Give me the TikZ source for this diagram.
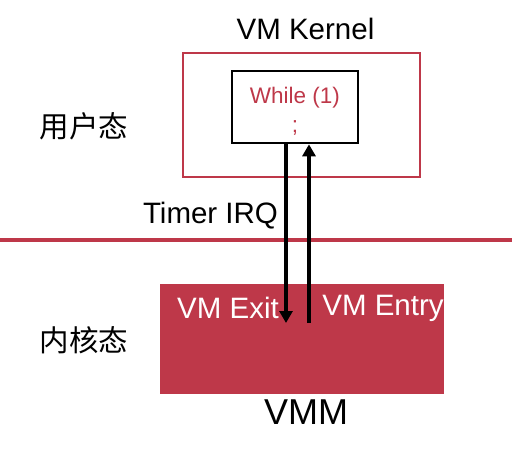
\documentclass[tikz,border=0pt]{standalone}
\usepackage{fontspec}
\setmainfont{Liberation Sans}
\newfontfamily\cjk{Noto Sans CJK SC}
\usetikzlibrary{arrows.meta,positioning}
\definecolor{KernClr}{RGB}{190,56,73}

\begin{document}
\begin{tikzpicture}[x=1pt,y=-1pt,
  lbl/.style={inner sep=0pt,font=\fontsize{29.5}{34}\selectfont},
  cjklbl/.style={inner sep=0pt,font=\cjk\fontsize{29.5}{34}\selectfont},
  jump/.style={line width=4pt,-{Triangle[width=13pt,length=12pt]}}]
\useasboundingbox (0,0) rectangle (516,458);

\node[draw=KernClr,line width=2pt,minimum width=237pt,minimum height=124pt] (vmbox) at (301.5,115) {};
\node[draw=black,line width=2.6pt,minimum width=126pt,minimum height=72pt] (loop) at (295,107) {};
\node[align=center,text=KernClr,inner sep=0pt,font=\fontsize{22.5}{29}\selectfont] (code) at (295,111) {While (1)\\;};
\node[lbl] (vmk) at (305.5,29) {VM Kernel};

\draw[KernClr,line width=4pt] (0,239.7) coordinate (sepL) -- (512,239.7) coordinate (sepR);

\node[fill=KernClr,minimum width=284pt,minimum height=110pt] (vmm) at (302,339) {};
\node[lbl,font=\fontsize{36}{40}\selectfont] (vmmtxt) at (306,412) {VMM};

\node[cjklbl] (user) at (84,126) {用户态};
\node[cjklbl] (kern) at (84,340) {内核态};
\node[lbl] (irq) at (210.5,216) {Timer IRQ};
\node[lbl,text=white] (exit) at (228,308) {VM Exit};
\node[lbl,text=white] (entry) at (383,308) {VM Entry};

\coordinate (exitEnd) at (286,323);
\coordinate (entryStart) at (309,323);
\draw[jump] (loop.south -| exitEnd) -- (exitEnd);
\draw[jump] (entryStart) -- (loop.south -| entryStart);

\end{tikzpicture}
\end{document}
